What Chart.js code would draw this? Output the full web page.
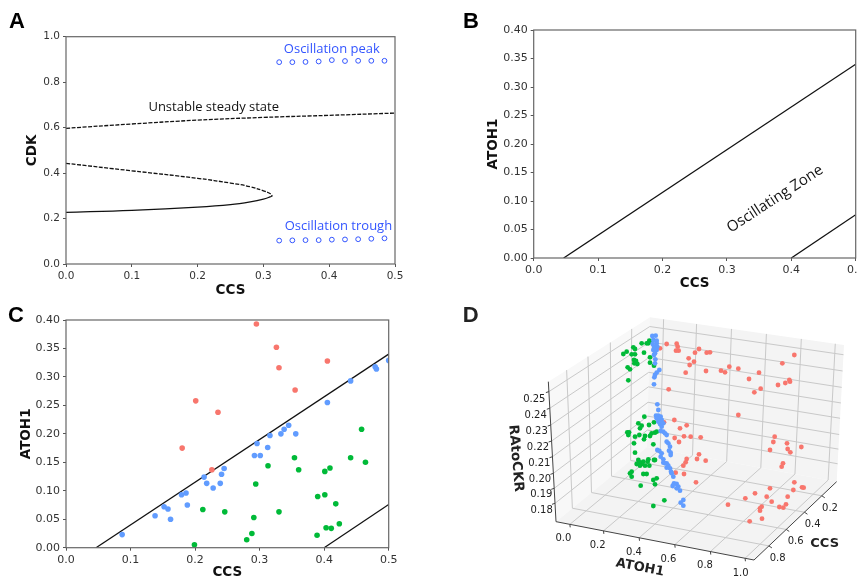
<!DOCTYPE html>
<html>
<head>
<meta charset="utf-8">
<title>Oscillation zone</title>
<script src="https://cdn.jsdelivr.net/npm/chart.js@4/dist/chart.umd.min.js"></script>
<style>
    html, body { margin: 0; padding: 0; background: #fff; width: 857px; height: 580px; overflow: hidden; }
    canvas { position: absolute; }
</style>
</head>
<body>
<canvas id="panelA" width="430" height="300" style="left:0;top:0"></canvas>
<canvas id="panelB" width="460" height="300" style="left:430px;top:0"></canvas>
<canvas id="panelC" width="430" height="300" style="left:0;top:300px"></canvas>
<canvas id="panelD" width="407" height="280" style="left:450px;top:300px"></canvas>
<script>
// Panel A
const ticksCcs = [0, 0.1, 0.2, 0.3, 0.4, 0.5];
const ticksCdk = [0, 0.2, 0.4, 0.6, 0.8, 1.0];
const oscCcs = [0.324, 0.344, 0.364, 0.384, 0.404, 0.424, 0.444, 0.464, 0.484];
const peakCdk = [0.888, 0.888, 0.889, 0.891, 0.897, 0.893, 0.894, 0.894, 0.894];
const troughCdk = [0.103, 0.104, 0.105, 0.105, 0.107, 0.108, 0.109, 0.111, 0.113];
const upperCcs = [0, 0.1, 0.2, 0.3, 0.4, 0.5];
const upperCdk = [0.597, 0.616, 0.633, 0.645, 0.654, 0.664];
const saddleCcs = [0, 0.1, 0.2, 0.25, 0.28, 0.3, 0.31, 0.3136];
const saddleCdk = [0.443, 0.41, 0.377, 0.356, 0.34, 0.322, 0.31, 0.3];
const stableCcs = [0.3136, 0.31, 0.3, 0.28, 0.25, 0.2, 0.1, 0];
const stableCdk = [0.3, 0.295, 0.285, 0.273, 0.261, 0.25, 0.236, 0.227];

// Panels B and C
const ticksAtoh = [0, 0.05, 0.10, 0.15, 0.20, 0.25, 0.30, 0.35, 0.40];
const upperBound = [[0.0465, 0], [0.5, 0.34]];
const lowerBound = [[0.4, 0], [0.5, 0.076]];

const blueC = [[0.087, 0.023], [0.138, 0.056], [0.152, 0.072], [0.158, 0.068], [0.162, 0.050], [0.179, 0.093],
    [0.186, 0.096], [0.188, 0.075], [0.214, 0.124], [0.218, 0.113], [0.228, 0.105], [0.239, 0.113], [0.241, 0.129],
    [0.245, 0.139], [0.292, 0.162], [0.301, 0.162], [0.296, 0.183], [0.3125, 0.176], [0.316, 0.197], [0.333, 0.200],
    [0.338, 0.208], [0.345, 0.215], [0.356, 0.200], [0.405, 0.255], [0.441, 0.293], [0.479, 0.318], [0.481, 0.314],
    [0.5, 0.329]];
const redC = [[0.295, 0.393], [0.326, 0.352], [0.330, 0.316], [0.355, 0.277], [0.405, 0.328], [0.201, 0.258],
    [0.2355, 0.238], [0.180, 0.175], [0.226, 0.137]];
const greenC = [[0.199, 0.005], [0.212, 0.067], [0.246, 0.063], [0.280, 0.014], [0.288, 0.025], [0.291, 0.053],
    [0.294, 0.112], [0.313, 0.144], [0.330, 0.063], [0.354, 0.158], [0.3605, 0.137], [0.389, 0.022], [0.390, 0.090],
    [0.401, 0.134], [0.401, 0.093], [0.409, 0.140], [0.403, 0.035], [0.411, 0.034], [0.418, 0.077], [0.4235, 0.042],
    [0.441, 0.158], [0.458, 0.208], [0.464, 0.150]];

// Panel D, points as they land on the projection plane of the 3D view
const redD = [[650, 132], [680, 131], [683, 140], [630, 145], [678, 152], [686, 152], [747, 147], [735, 158], [770, 158],
    [780, 157], [716, 175], [732, 185], [719, 195], [707, 218], [768, 213], [813, 212], [825, 217], [838, 200], [865, 206],
    [927, 218], [897, 237], [1033, 165], [997, 190], [1018, 240], [1020, 245], [1006, 249], [984, 255], [932, 266],
    [913, 277], [656, 268], [865, 345], [673, 360], [642, 367], [690, 385], [710, 376], [674, 414], [702, 409], [722, 410],
    [752, 412], [687, 426], [974, 410], [970, 426], [1011, 430], [1054, 441], [1013, 447], [960, 450], [1021, 457],
    [999, 490], [995, 500], [747, 463], [741, 477], [767, 482], [710, 477], [707, 487], [700, 497], [702, 522], [738, 547],
    [677, 518], [1033, 547], [1056, 562], [1061, 563], [1030, 570], [960, 565], [915, 580], [886, 595], [1013, 590],
    [1008, 613], [965, 605], [950, 590], [834, 614], [988, 621], [1000, 623], [935, 620], [930, 625], [930, 632],
    [936, 656], [899, 664]];
const blueD = [[607, 108], [617, 107], [610, 120], [620, 122], [608, 132], [620, 130], [612, 140], [622, 140], [610, 150],
    [620, 150], [615, 160], [612, 165], [616, 178], [615, 190], [628, 210], [620, 218], [615, 225], [613, 232], [612, 253],
    [622, 313], [625, 330], [618, 347], [625, 347], [632, 350], [620, 355], [630, 358], [635, 360], [625, 365], [630, 372],
    [640, 370], [635, 380], [632, 393], [640, 395], [645, 400], [650, 405], [650, 425], [655, 430], [660, 440], [657, 452],
    [662, 458], [662, 465], [622, 450], [628, 453], [635, 460], [632, 470], [640, 478], [640, 488], [645, 490], [650, 490],
    [655, 497], [650, 503], [660, 505], [663, 515], [665, 520], [670, 530], [672, 550], [668, 558], [680, 552], [685, 560],
    [680, 565], [690, 572], [700, 600], [692, 608], [700, 617]];
const greenD = [[598, 122], [605, 125], [595, 130], [575, 130], [590, 130], [550, 142], [555, 147], [520, 162], [530, 155],
    [545, 163], [555, 163], [582, 158], [600, 172], [552, 180], [558, 183], [553, 190], [562, 192], [600, 188], [612, 197],
    [533, 202], [540, 208], [535, 241], [583, 350], [565, 370], [575, 377], [570, 385], [597, 375], [612, 367], [532, 397],
    [537, 397], [535, 405], [555, 410], [568, 405], [585, 408], [582, 418], [605, 400], [615, 398], [620, 395], [600, 408],
    [552, 430], [610, 433], [555, 458], [595, 478], [593, 485], [565, 480], [570, 487], [560, 492], [575, 492], [580, 485],
    [585, 497], [598, 497], [570, 497], [615, 480], [612, 480], [545, 515], [540, 520], [545, 530], [580, 522], [590, 522],
    [620, 535], [610, 540], [615, 553], [572, 557], [643, 601], [610, 618]];

// 3D box tick labels and where each tick falls along its edge
const ticksRatio = ['0.18', '0.19', '0.20', '0.21', '0.22', '0.23', '0.24', '0.25'];
const ticksAtoh3d = ['0.0', '0.2', '0.4', '0.6', '0.8', '1.0'];
const ticksCcs3d = ['0.8', '0.6', '0.4', '0.2'];
const fracRatio = [0.131, 0.238, 0.345, 0.464, 0.576, 0.69, 0.81, 0.929];
const fracAtoh = [0.07, 0.24, 0.42, 0.60, 0.78, 0.955];
const fracCcs = [0.18, 0.39, 0.61, 0.82];
// box corners on the projection plane
const cornerL = [318, 665], cornerF = [912, 780], cornerR = [1160, 545], cornerB = [591, 441];
const cornerTL = [295, 245], cornerTB = [600, 52], cornerTR = [1182, 135];

const BLUE = '#619CFF', RED = '#F8766D', GREEN = '#00BA38', OSC = '#3355ff';
const TICK_FONT = '"DejaVu Sans"';
const TITLE_FONT = { family: TICK_FONT, size: 13.5, weight: 'bold' };

function zip(xs, ys) {
    return xs.map((x, i) => [x, ys[i]]);
}

function putText(ctx, text, x, y, font, color, angle) {
    ctx.save();
    ctx.translate(x, y);
    ctx.rotate((angle || 0) * Math.PI / 180);
    ctx.font = font;
    ctx.fillStyle = color || '#222';
    ctx.textAlign = 'center';
    ctx.textBaseline = 'middle';
    ctx.fillText(text, 0, 0);
    ctx.restore();
}

// frame, panel letter and annotations in data coordinates
function decorate(letter, lx, ly, notes) {
    return {
        id: 'decorate',
        afterDraw(chart) {
            const { ctx, chartArea: a, scales } = chart;
            ctx.save();
            ctx.strokeStyle = '#666';
            ctx.lineWidth = 1.2;
            ctx.strokeRect(a.left, a.top, a.right - a.left, a.bottom - a.top);
            ctx.restore();
            putText(ctx, letter, lx, ly, 'bold 22px "Liberation Sans"', '#000');
            (notes || []).forEach(n => {
                putText(ctx, n.text, scales.x.getPixelForValue(n.x), scales.y.getPixelForValue(n.y),
                    n.font, n.color, n.angle);
            });
        }
    };
}

function axis(title, ticks, max, digits, size, fontSize, titlePad, fit) {
    return {
        type: 'linear',
        min: 0,
        max: max,
        border: { display: false },
        grid: { drawOnChartArea: false, tickLength: 3, color: '#555' },
        afterBuildTicks: s => { s.ticks = ticks.map(v => ({ value: v })); },
        afterFit: s => { s[fit] = size; },
        ticks: {
            autoSkip: false,
            maxRotation: 0,
            padding: 3,
            color: '#333',
            font: { family: TICK_FONT, size: fontSize },
            callback: v => v.toFixed(digits)
        },
        title: { display: true, text: title, color: '#111', font: TITLE_FONT, padding: titlePad }
    };
}

function lineSet(data, dash, tension) {
    return {
        type: 'scatter', data: data, showLine: true, pointRadius: 0, borderColor: '#111', borderWidth: 1.3,
        borderDash: dash || [], tension: tension || 0, fill: false, clip: 0
    };
}

function dotSet(data, color) {
    return { data: data, pointRadius: 2.8, pointBackgroundColor: color, pointBorderWidth: 0, showLine: false, clip: 0 };
}

function hollowSet(data) {
    return {
        data: data, pointRadius: 2.4, pointBackgroundColor: 'rgba(0,0,0,0)', pointBorderColor: OSC,
        pointBorderWidth: 1, showLine: false
    };
}

const baseOptions = {
    responsive: false,
    animation: false,
    plugins: { legend: { display: false }, tooltip: { enabled: false } }
};

new Chart(document.getElementById('panelA'), {
    type: 'scatter',
    data: {
        datasets: [
            hollowSet(zip(oscCcs, peakCdk)),
            hollowSet(zip(oscCcs, troughCdk)),
            lineSet(zip(upperCcs, upperCdk), [4, 1.5], 0.4),
            lineSet(zip(saddleCcs, saddleCdk), [4, 1.5], 0.4),
            lineSet(zip(stableCcs, stableCdk), [], 0.4)
        ]
    },
    options: {
        ...baseOptions,
        layout: { padding: { left: 0, top: 36.7, right: 35, bottom: 0 } },
        scales: {
            x: axis('CCS', ticksCcs, 0.5, 1, 36, 10.5, { top: 0, bottom: 1.2 }, 'height'),
            y: axis('CDK', ticksCdk, 1, 1, 66, 10.5, { top: 23.9, bottom: 0 }, 'width')
        }
    },
    plugins: [decorate('A', 17, 22, [
        { text: 'Oscillation peak', x: 0.404, y: 0.946, font: '13px "Open Sans"', color: OSC },
        { text: 'Oscillation trough', x: 0.414, y: 0.168, font: '13px "Open Sans"', color: OSC },
        { text: 'Unstable steady state', x: 0.2245, y: 0.689, font: '13px "Open Sans"', color: '#111' }
    ])]
});

new Chart(document.getElementById('panelB'), {
    type: 'scatter',
    data: { datasets: [lineSet(upperBound), lineSet(lowerBound)] },
    options: {
        ...baseOptions,
        layout: { padding: { left: 0, top: 30, right: 34.3, bottom: 0 } },
        scales: {
            x: axis('CCS', ticksCcs, 0.5, 1, 42, 11, { top: 0, bottom: 8.9 }, 'height'),
            y: axis('ATOH1', ticksAtoh, 0.4, 2, 103.7, 11, { top: 55, bottom: 0 }, 'width')
        }
    },
    plugins: [decorate('B', 41, 22, [
        { text: 'Oscillating Zone', x: 0.3747, y: 0.1035, font: '15px "Open Sans"', color: '#111', angle: -33 }
    ])]
});

new Chart(document.getElementById('panelC'), {
    type: 'scatter',
    data: {
        datasets: [dotSet(blueC, BLUE), dotSet(redC, RED), dotSet(greenC, GREEN), lineSet(upperBound), lineSet(lowerBound)]
    },
    options: {
        ...baseOptions,
        layout: { padding: { left: 0, top: 20, right: 41.3, bottom: 0 } },
        scales: {
            x: axis('CCS', ticksCcs, 0.5, 1, 52.3, 11, { top: 0, bottom: 19.2 }, 'height'),
            y: axis('ATOH1', ticksAtoh, 0.4, 2, 66, 11, { top: 18, bottom: 0 }, 'width')
        }
    },
    plugins: [decorate('C', 16, 16)]
});

// Panel D: the box is bilinear between its corners on the projection plane
function mix(a, b, t) {
    return [a[0] + (b[0] - a[0]) * t, a[1] + (b[1] - a[1]) * t];
}

const box3d = {
    id: 'box3d',
    beforeDatasetsDraw(chart) {
        const { ctx, scales } = chart;
        const px = p => [scales.x.getPixelForValue(p[0]), scales.y.getPixelForValue(p[1])];
        const poly = (pts, fill) => {
            ctx.beginPath();
            pts.map(px).forEach((p, i) => (i ? ctx.lineTo(p[0], p[1]) : ctx.moveTo(p[0], p[1])));
            ctx.closePath();
            ctx.fillStyle = fill;
            ctx.fill();
        };
        const seg = (a, b, color, width) => {
            const p = px(a), q = px(b);
            ctx.beginPath();
            ctx.moveTo(p[0], p[1]);
            ctx.lineTo(q[0], q[1]);
            ctx.strokeStyle = color;
            ctx.lineWidth = width;
            ctx.stroke();
        };

        poly([cornerL, cornerTL, cornerTB, cornerB], '#f8f8f8');
        poly([cornerB, cornerTB, cornerTR, cornerR], '#f4f4f4');
        poly([cornerL, cornerB, cornerR, cornerF], '#f3f3f3');

        const GRID = '#c9c9c9';
        fracRatio.forEach(t => {
            const left = mix(cornerL, cornerTL, t), back = mix(cornerB, cornerTB, t), right = mix(cornerR, cornerTR, t);
            seg(left, back, GRID, 1);
            seg(back, right, GRID, 1);
            seg(left, [left[0] - 9, left[1] + 3], '#444', 1);
        });
        fracAtoh.forEach(t => {
            const front = mix(cornerL, cornerF, t), back = mix(cornerB, cornerR, t), top = mix(cornerTB, cornerTR, t);
            seg(front, back, GRID, 1);
            seg(back, top, GRID, 1);
            seg(front, [front[0] + 1, front[1] + 9], '#444', 1);
        });
        fracCcs.forEach(t => {
            const side = mix(cornerL, cornerB, t), front = mix(cornerF, cornerR, t), top = mix(cornerTL, cornerTB, t);
            seg(front, side, GRID, 1);
            seg(side, top, GRID, 1);
            seg(front, [front[0] + 9, front[1] + 6], '#444', 1);
        });

        seg(cornerL, cornerTL, '#444', 1);
        seg(cornerL, cornerF, '#444', 1);
        seg(cornerF, cornerR, '#444', 1);
    },
    afterDraw(chart) {
        const { ctx, scales } = chart;
        const put = (text, x, y, font, angle) => putText(ctx, text, scales.x.getPixelForValue(x),
            scales.y.getPixelForValue(y), font, '#222', angle);
        const small = '10px ' + TICK_FONT;
        const ratioPos = [[275, 630], [274, 583], [270, 538], [268, 491], [264, 443], [260, 395], [257, 345], [253, 297]];
        const atohPos = [[340, 714], [443, 737], [552, 756], [655, 777], [765, 797], [872, 820]];
        const ccsPos = [[983, 775], [1037, 725], [1088, 673], [1140, 624]];
        ticksRatio.forEach((t, i) => put(t, ratioPos[i][0], ratioPos[i][1], small));
        ticksAtoh3d.forEach((t, i) => put(t, atohPos[i][0], atohPos[i][1], small));
        ticksCcs3d.forEach((t, i) => put(t, ccsPos[i][0], ccsPos[i][1], small));
        put('RAtoCKR', 197, 475, 'bold 13.5px "DejaVu Sans"', 85);
        put('ATOH1', 570, 803, 'bold 13px "DejaVu Sans"', 11);
        put('CCS', 1124, 730, 'bold 13px "DejaVu Sans"');
        put('D', 62, 48, 'bold 22px "Liberation Sans"');
    }
};

new Chart(document.getElementById('panelD'), {
    type: 'scatter',
    data: {
        datasets: [
            { data: blueD, pointRadius: 2.4, pointBackgroundColor: BLUE, pointBorderWidth: 0, clip: false },
            { data: greenD, pointRadius: 2.4, pointBackgroundColor: GREEN, pointBorderWidth: 0, clip: false },
            { data: redD, pointRadius: 2.4, pointBackgroundColor: RED, pointBorderWidth: 0, clip: false }
        ]
    },
    options: {
        ...baseOptions,
        layout: { padding: 0, autoPadding: false },
        scales: {
            x: { type: 'linear', display: false, min: 0, max: 1221 },
            y: { type: 'linear', display: false, min: 0, max: 840, reverse: true }
        }
    },
    plugins: [box3d]
});
</script>
</body>
</html>
